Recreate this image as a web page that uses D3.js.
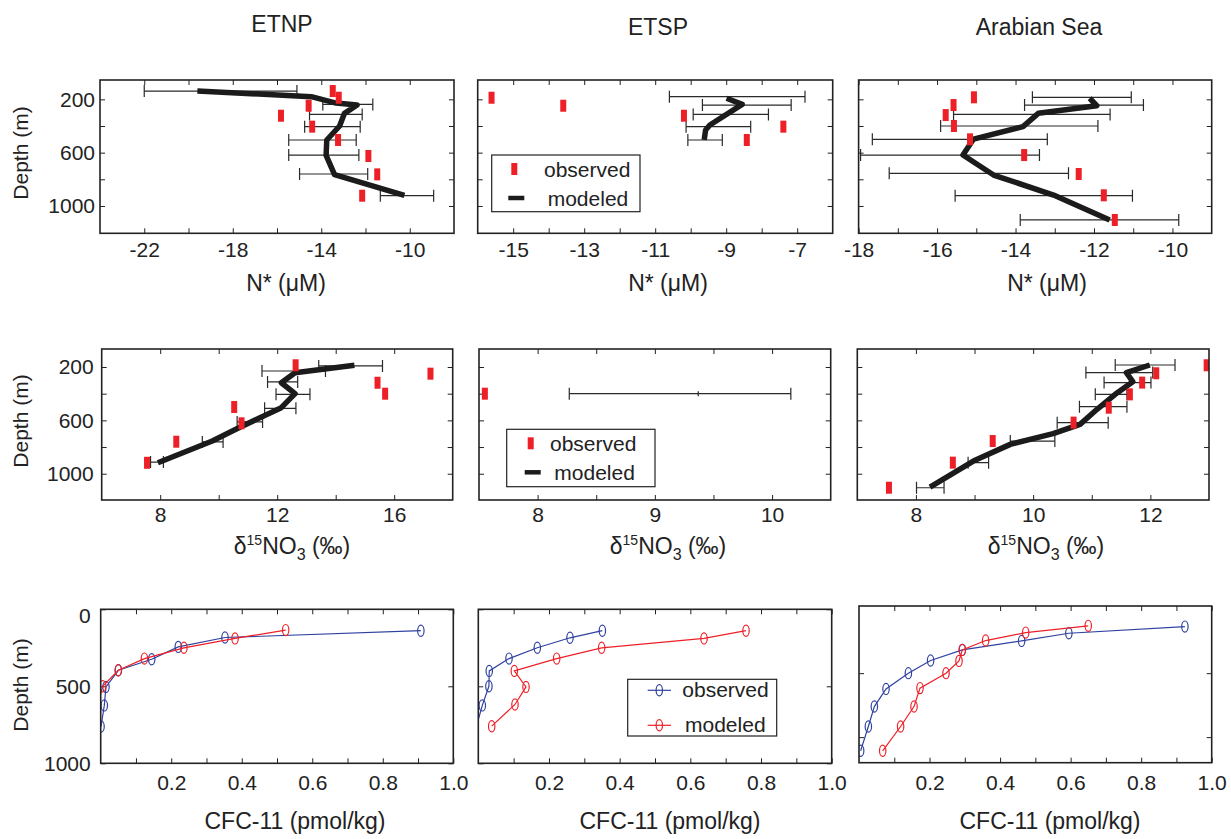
<!DOCTYPE html>
<html lang="en">
<head>
<meta charset="UTF-8">
<title>N*, d15NO3 and CFC-11 profiles</title>
<script src="https://d3js.org/d3.v7.min.js"></script>
<style>
  body { margin: 0; background: #fff; }
  svg { display: block; font-family: "Liberation Sans", Arial, Helvetica, sans-serif; }
</style>
</head>
<body>
<div id="chart"></div>
<script>
// ---------- data (depth in m) ----------
const regions = ["ETNP", "ETSP", "Arabian Sea"];

// N* (uM)
const etnpNstarObsDepth = [138, 188, 248, 323, 405, 505, 625, 763, 923];
const etnpNstarObs      = [-13.48, -13.21, -14.57, -15.82, -14.41, -13.24, -11.87, -11.47, -12.15];
const etnpNstarModDepth = [138, 180, 228, 243, 305, 400, 505, 620, 765, 920];
const etnpNstarMod      = [-19.6, -14.45, -13.33, -12.38, -12.95, -13.17, -13.75, -13.78, -13.4, -10.24];
const etnpNstarErrDepth = [138, 238, 313, 405, 505, 618, 760, 923];
const etnpNstarErrLo    = [-22.0, -13.93, -14.53, -14.75, -15.47, -15.47, -14.98, -11.33];
const etnpNstarErrHi    = [-15.1, -11.67, -12.15, -12.24, -12.42, -12.3, -11.9, -8.92];

const etspNstarObsDepth = [188, 248, 323, 405, 505];
const etspNstarObs      = [-15.61, -13.59, -10.19, -7.39, -8.42];
const etspNstarModDepth = [192, 238, 393, 430, 505];
const etspNstarMod      = [-8.99, -8.55, -9.46, -9.58, -9.62];
const etspNstarErrDepth = [180, 243, 313, 405, 505];
const etspNstarErrLo    = [-10.6, -9.67, -9.93, -10.13, -10.08];
const etspNstarErrHi    = [-6.78, -7.17, -7.81, -8.31, -9.11];

const arabNstarObsDepth = [185, 243, 318, 400, 500, 618, 760, 920, 1105];
const arabNstarObs      = [-15.06, -15.58, -15.78, -15.57, -15.16, -13.78, -12.39, -11.75, -11.47];
const arabNstarModDepth = [192, 248, 305, 405, 498, 618, 768, 918, 1105];
const arabNstarMod      = [-12.11, -11.93, -13.42, -13.81, -15.07, -15.34, -14.56, -13.03, -11.6];
const arabNstarErrDepth = [185, 243, 313, 400, 500, 618, 755, 923, 1105];
const arabNstarErrLo    = [-13.57, -13.77, -15.58, -15.91, -17.65, -17.95, -17.22, -15.54, -13.88];
const arabNstarErrHi    = [-11.05, -10.74, -11.59, -11.9, -13.19, -13.39, -12.65, -11.02, -9.84];

// d15NO3 (permil)
const etnpD15ObsDepth = [187, 250, 318, 400, 500, 622, 760, 918];
const etnpD15Obs      = [12.63, 17.24, 15.43, 15.69, 10.53, 10.78, 8.55, 7.55];
const etnpD15ModDepth = [187, 243, 318, 400, 505, 655, 755, 918];
const etnpD15Mod      = [14.64, 12.61, 12.14, 12.61, 12.14, 10.69, 9.78, 7.92];
const etnpD15ErrDepth = [192, 230, 312, 405, 510, 612, 762, 913];
const etnpD15ErrLo    = [13.42, 11.48, 11.67, 11.96, 11.57, 10.63, 9.44, 7.67];
const etnpD15ErrHi    = [15.6, 13.65, 12.7, 13.12, 12.64, 11.5, 10.15, 8.11];

const etspD15ObsDepth = [400];
const etspD15Obs      = [7.55];
const etspD15ModDepth = [400];
const etspD15Mod      = [9.37];
const etspD15ErrDepth = [400];
const etspD15ErrLo    = [8.27];
const etspD15ErrHi    = [10.16];

const arabD15ObsDepth = [187, 247, 317, 405, 505, 617, 755, 917, 1105];
const arabD15Obs      = [12.96, 12.1, 11.86, 11.65, 11.29, 10.69, 9.31, 8.63, 7.54];
const arabD15ModDepth = [185, 242, 310, 405, 517, 630, 700, 780, 905, 1100];
const arabD15Mod      = [11.99, 11.59, 11.7, 11.4, 11.09, 10.8, 10.34, 9.61, 8.98, 8.24];
const arabD15ErrDepth = [185, 242, 317, 405, 497, 617, 755, 917, 1105];
const arabD15ErrLo    = [11.4, 10.9, 11.21, 11.06, 10.79, 10.41, 9.61, 8.89, 8.01];
const arabD15ErrHi    = [12.42, 12.04, 12.01, 11.6, 11.6, 11.28, 10.37, 9.24, 8.48];

// CFC-11 (pmol/kg)
const etnpCfcObsDepth = [139, 183, 244, 324, 396, 504, 624, 761];
const etnpCfcObs      = [0.908, 0.3525, 0.22, 0.1446, 0.05, 0.015, 0.0102, 0.001];
const etnpCfcModDepth = [135, 189, 250, 320, 396, 500, 720];
const etnpCfcMod      = [0.5246, 0.381, 0.236, 0.124, 0.05, 0.0057, -0.02];

const etspCfcObsDepth = [139, 185, 250, 320, 400, 500, 624, 800];
const etspCfcObs      = [0.351, 0.2595, 0.167, 0.0869, 0.031, 0.03, 0.0113, -0.01];
const etspCfcModDepth = [139, 189, 250, 320, 400, 504, 618, 759];
const etspCfcMod      = [0.7575, 0.6387, 0.349, 0.2218, 0.1019, 0.135, 0.1038, 0.0379];

const arabCfcObsDepth = [136, 188, 248, 318, 401, 500, 623, 761, 917, 1107];
const arabCfcObs      = [0.924, 0.595, 0.461, 0.293, 0.203, 0.14, 0.0766, 0.0435, 0.0265, 0.0047];
const arabCfcModDepth = [130, 183, 245, 318, 404, 500, 617, 761, 917, 1107];
const arabCfcMod      = [0.65, 0.4726, 0.359, 0.293, 0.2835, 0.2467, 0.173, 0.156, 0.118, 0.0672];

// ticks
const depthTicks = [200, 400, 600, 800, 1000];
const depthLabels = [200, 600, 1000];
const cfcDepthTicks = [0, 500, 1000];
const cfcTicks = [0.1, 0.2, 0.3, 0.4, 0.5, 0.6, 0.7, 0.8, 0.9, 1.0];
const cfcLabels = [0.2, 0.4, 0.6, 0.8, 1.0];

// ---------- layout ----------
const zip = (xs, ds) => xs.map((v, i) => ({ v, d: ds[i] }));
const bars = (lo, hi, ds) => lo.map((l, i) => ({ lo: l, hi: hi[i], d: ds[i] }));

const panels = [
  { x0: 100, x1: 454, y0: 80, y1: 233.3, xDom: [-24, -8], yDom: [55, 1205], kind: "nstar",
    xTicks: [-22, -20, -18, -16, -14, -12, -10], xLabels: [-22, -18, -14, -10], yLabels: depthLabels,
    obs: zip(etnpNstarObs, etnpNstarObsDepth), mod: zip(etnpNstarMod, etnpNstarModDepth),
    err: bars(etnpNstarErrLo, etnpNstarErrHi, etnpNstarErrDepth) },
  { x0: 477.7, x1: 832.7, y0: 80, y1: 233.3, xDom: [-16, -6], yDom: [55, 1205], kind: "nstar",
    xTicks: [-15, -14, -13, -12, -11, -10, -9, -8, -7], xLabels: [-15, -13, -11, -9, -7], yLabels: [],
    obs: zip(etspNstarObs, etspNstarObsDepth), mod: zip(etspNstarMod, etspNstarModDepth),
    err: bars(etspNstarErrLo, etspNstarErrHi, etspNstarErrDepth),
    legend: { x: 491.7, y: 155, w: 148.3, h: 56.7 } },
  { x0: 858.6, x1: 1211.7, y0: 80, y1: 233.3, xDom: [-18, -9], yDom: [55, 1205], kind: "nstar",
    xTicks: [-18, -17, -16, -15, -14, -13, -12, -11, -10], xLabels: [-18, -16, -14, -12, -10], yLabels: [],
    obs: zip(arabNstarObs, arabNstarObsDepth), mod: zip(arabNstarMod, arabNstarModDepth),
    err: bars(arabNstarErrLo, arabNstarErrHi, arabNstarErrDepth) },

  { x0: 101.7, x1: 452.7, y0: 349, y1: 500, xDom: [6, 18], yDom: [65, 1197], kind: "d15",
    xTicks: [8, 10, 12, 14, 16], xLabels: [8, 12, 16], yLabels: depthLabels,
    obs: zip(etnpD15Obs, etnpD15ObsDepth), mod: zip(etnpD15Mod, etnpD15ModDepth),
    err: bars(etnpD15ErrLo, etnpD15ErrHi, etnpD15ErrDepth) },
  { x0: 479, x1: 830.7, y0: 349, y1: 500, xDom: [7.5, 10.5], yDom: [65, 1197], kind: "d15",
    xTicks: [8, 8.5, 9, 9.5, 10], xLabels: [8, 9, 10], yLabels: [],
    obs: zip(etspD15Obs, etspD15ObsDepth), mod: zip(etspD15Mod, etspD15ModDepth),
    err: bars(etspD15ErrLo, etspD15ErrHi, etspD15ErrDepth),
    legend: { x: 506.7, y: 429.3, w: 148.3, h: 57.4 } },
  { x0: 857.3, x1: 1209, y0: 349, y1: 500, xDom: [7, 13], yDom: [65, 1197], kind: "d15",
    xTicks: [8, 9, 10, 11, 12], xLabels: [8, 10, 12], yLabels: [],
    obs: zip(arabD15Obs, arabD15ObsDepth), mod: zip(arabD15Mod, arabD15ModDepth),
    err: bars(arabD15ErrLo, arabD15ErrHi, arabD15ErrDepth) },

  { x0: 100.7, x1: 453.3, y0: 609.3, y1: 763.3, xDom: [0, 1], yDom: [0, 1000], kind: "cfc",
    xTicks: cfcTicks, xLabels: cfcLabels, yTicks: cfcDepthTicks, yLabels: cfcDepthTicks,
    obs: zip(etnpCfcObs, etnpCfcObsDepth), mod: zip(etnpCfcMod, etnpCfcModDepth) },
  { x0: 478.3, x1: 831.7, y0: 609.3, y1: 763.3, xDom: [0, 1], yDom: [0, 1000], kind: "cfc",
    xTicks: cfcTicks, xLabels: cfcLabels, yTicks: cfcDepthTicks, yLabels: [],
    obs: zip(etspCfcObs, etspCfcObsDepth), mod: zip(etspCfcMod, etspCfcModDepth),
    legend: { x: 627.7, y: 679.3, w: 149, h: 56.7 } },
  { x0: 859, x1: 1211.7, y0: 606, y1: 762.7, xDom: [0, 1], yDom: [-25, 1200], kind: "cfc",
    xTicks: cfcTicks, xLabels: cfcLabels, yTicks: [500, 1000], yLabels: [],
    obs: zip(arabCfcObs, arabCfcObsDepth), mod: zip(arabCfcMod, arabCfcModDepth) }
];

const INK = "#222";
const RED = "#ee2027";
const BLUE = "#2f42a0";
const FONT_TICK = 21, FONT_TITLE = 23;

const svg = d3.select("#chart").append("svg").attr("width", 1231).attr("height", 839);

function styleAxis(g) {
  g.select(".domain").remove();
  g.attr("font-family", null).attr("font-size", FONT_TICK).attr("color", INK);
  g.selectAll("line").attr("stroke-width", 1);
}

panels.forEach((p, i) => {
  const row = Math.floor(i / 3);
  const g = svg.append("g");
  const x = d3.scaleLinear().domain(p.xDom).range([p.x0, p.x1]);
  const y = d3.scaleLinear().domain(p.yDom).range([p.y0, p.y1]);
  const yTicks = p.yTicks || depthTicks;
  const xFmt = p.kind === "cfc" ? d3.format(".1f") : (d => String(d));
  const xPad = [9, 7, 12][row];
  const yPad = [5, 8, 10][row];

  const clipId = "clip" + i;
  svg.append("clipPath").attr("id", clipId).append("rect")
    .attr("x", p.x0).attr("y", p.y0).attr("width", p.x1 - p.x0).attr("height", p.y1 - p.y0);

  // ticks (inward, all four sides)
  g.append("g").attr("transform", `translate(0,${p.y1})`)
    .call(d3.axisBottom(x).tickValues(p.xTicks).tickSizeInner(-5).tickSizeOuter(0).tickPadding(xPad)
      .tickFormat(d => p.xLabels.includes(d) ? xFmt(d) : ""))
    .call(styleAxis);
  g.append("g").attr("transform", `translate(0,${p.y0})`)
    .call(d3.axisTop(x).tickValues(p.xTicks).tickSizeInner(-5).tickSizeOuter(0).tickFormat(""))
    .call(styleAxis);
  const left = g.append("g").attr("transform", `translate(${p.x0},0)`)
    .call(d3.axisLeft(y).tickValues(yTicks).tickSizeInner(-5).tickSizeOuter(0).tickPadding(yPad)
      .tickFormat(d => p.yLabels.includes(d) ? String(d) : ""))
    .call(styleAxis);
  left.selectAll(".tick text").filter(d => d === 0).attr("dy", "0.65em");
  g.append("g").attr("transform", `translate(${p.x1},0)`)
    .call(d3.axisRight(y).tickValues(yTicks).tickSizeInner(-5).tickSizeOuter(0).tickFormat(""))
    .call(styleAxis);

  const plot = g.append("g").attr("clip-path", `url(#${clipId})`);

  if (p.kind === "cfc") {
    [[p.obs, BLUE], [p.mod, RED]].forEach(([data, col]) => {
      plot.append("path").datum(data)
        .attr("d", d3.line().x(d => x(d.v)).y(d => y(d.d)))
        .attr("fill", "none").attr("stroke", col).attr("stroke-width", 1.2);
      plot.selectAll(null).data(data).join("ellipse")
        .attr("cx", d => x(d.v)).attr("cy", d => y(d.d))
        .attr("rx", 3.2).attr("ry", 5.6)
        .attr("fill", "none").attr("stroke", col).attr("stroke-width", 1.2);
    });
  } else {
    // error bars
    const eb = plot.selectAll(null).data(p.err).join("g").attr("stroke", "#2a2a2a").attr("stroke-width", 1.2);
    eb.append("line").attr("x1", d => x(d.lo)).attr("x2", d => x(d.hi))
      .attr("y1", d => y(d.d)).attr("y2", d => y(d.d));
    eb.append("line").attr("x1", d => x(d.lo)).attr("x2", d => x(d.lo))
      .attr("y1", d => y(d.d) - 6).attr("y2", d => y(d.d) + 6);
    eb.append("line").attr("x1", d => x(d.hi)).attr("x2", d => x(d.hi))
      .attr("y1", d => y(d.d) - 6).attr("y2", d => y(d.d) + 6);

    if (p.mod.length > 1) {
      plot.append("path").datum(p.mod)
        .attr("d", d3.line().x(d => x(d.v)).y(d => y(d.d)))
        .attr("fill", "none").attr("stroke", "#1b1b1b").attr("stroke-width", 5.5)
        .attr("stroke-linejoin", "round");
    } else {
      // single modeled point: short mark on the error bar
      plot.selectAll(null).data(p.mod).join("line")
        .attr("x1", d => x(d.v)).attr("x2", d => x(d.v))
        .attr("y1", d => y(d.d) - 2.5).attr("y2", d => y(d.d) + 2.5)
        .attr("stroke", "#2a2a2a").attr("stroke-width", 1.2);
    }

    plot.selectAll(null).data(p.obs).join("rect")
      .attr("x", d => x(d.v) - 3).attr("y", d => y(d.d) - 6)
      .attr("width", 6).attr("height", 12).attr("fill", RED);
  }

  // frame
  g.append("rect").attr("x", p.x0).attr("y", p.y0)
    .attr("width", p.x1 - p.x0).attr("height", p.y1 - p.y0)
    .attr("fill", "none").attr("stroke", INK).attr("stroke-width", 1.6);

  // legends
  if (p.legend) {
    const L = p.legend;
    const lg = g.append("g").attr("font-size", FONT_TICK).attr("fill", INK);
    lg.append("rect").attr("x", L.x).attr("y", L.y).attr("width", L.w).attr("height", L.h)
      .attr("fill", "#fff").attr("stroke", INK).attr("stroke-width", 1.2);
    const r1 = L.y + 14, r2 = L.y + 43;
    if (p.kind === "cfc") {
      [[r1 - 3, BLUE, "observed", 54.6], [r2 + 3, RED, "modeled", 57.3]].forEach(([ry, col, label, tx]) => {
        lg.append("line").attr("x1", L.x + 20).attr("x2", L.x + 43.3).attr("y1", ry).attr("y2", ry)
          .attr("stroke", col).attr("stroke-width", 1.2);
        lg.append("ellipse").attr("cx", L.x + 31.6).attr("cy", ry).attr("rx", 3.2).attr("ry", 5.6)
          .attr("fill", "none").attr("stroke", col).attr("stroke-width", 1.2);
        lg.append("text").attr("x", L.x + tx).attr("y", ry + 6.5).text(label);
      });
    } else {
      const mx = L.x + (p.kind === "nstar" ? 22.6 : 24);
      lg.append("rect").attr("x", mx - 3).attr("y", r1 - 6).attr("width", 6).attr("height", 12).attr("fill", RED);
      lg.append("line").attr("x1", mx - 6).attr("x2", mx + 10).attr("y1", r2).attr("y2", r2)
        .attr("stroke", "#1b1b1b").attr("stroke-width", 4.5);
      lg.append("text").attr("x", L.x + (p.kind === "nstar" ? 52.3 : 43.3)).attr("y", r1 + 7.5).text("observed");
      lg.append("text").attr("x", L.x + (p.kind === "nstar" ? 56 : 47.6)).attr("y", r2 + 7.5).text("modeled");
    }
  }
});

// column titles
const titleX = [282, 658, 1039];
regions.forEach((r, i) => {
  svg.append("text").attr("x", titleX[i]).attr("y", i === 0 ? 32 : 35)
    .attr("text-anchor", "middle").attr("font-size", FONT_TITLE).attr("fill", INK).text(r);
});

// depth labels
[153, 421, 685].forEach(cy => {
  svg.append("text").attr("transform", `translate(28,${cy}) rotate(-90)`)
    .attr("text-anchor", "middle").attr("font-size", FONT_TICK).attr("fill", INK).text("Depth (m)");
});

// x-axis titles
const nstarX = [286, 668, 1047], d15X = [292, 668, 1046], cfcX = [295, 670, 1050];
nstarX.forEach(cx => {
  svg.append("text").attr("x", cx).attr("y", 291).attr("text-anchor", "middle")
    .attr("font-size", FONT_TITLE).attr("fill", INK).text("N* (\u03bcM)");
});
d15X.forEach(cx => {
  const t = svg.append("text").attr("x", cx).attr("y", 554).attr("text-anchor", "middle")
    .attr("font-size", FONT_TITLE).attr("fill", INK);
  t.append("tspan").text("\u03b4");
  t.append("tspan").attr("font-size", 14).attr("dy", -9).text("15");
  t.append("tspan").attr("dy", 9).text("NO");
  t.append("tspan").attr("font-size", 16).attr("dy", 6).text("3");
  t.append("tspan").attr("dy", -6).text(" (\u2030)");
});
cfcX.forEach(cx => {
  svg.append("text").attr("x", cx).attr("y", 829).attr("text-anchor", "middle")
    .attr("font-size", FONT_TITLE).attr("fill", INK).text("CFC-11 (pmol/kg)");
});
</script>
</body>
</html>
